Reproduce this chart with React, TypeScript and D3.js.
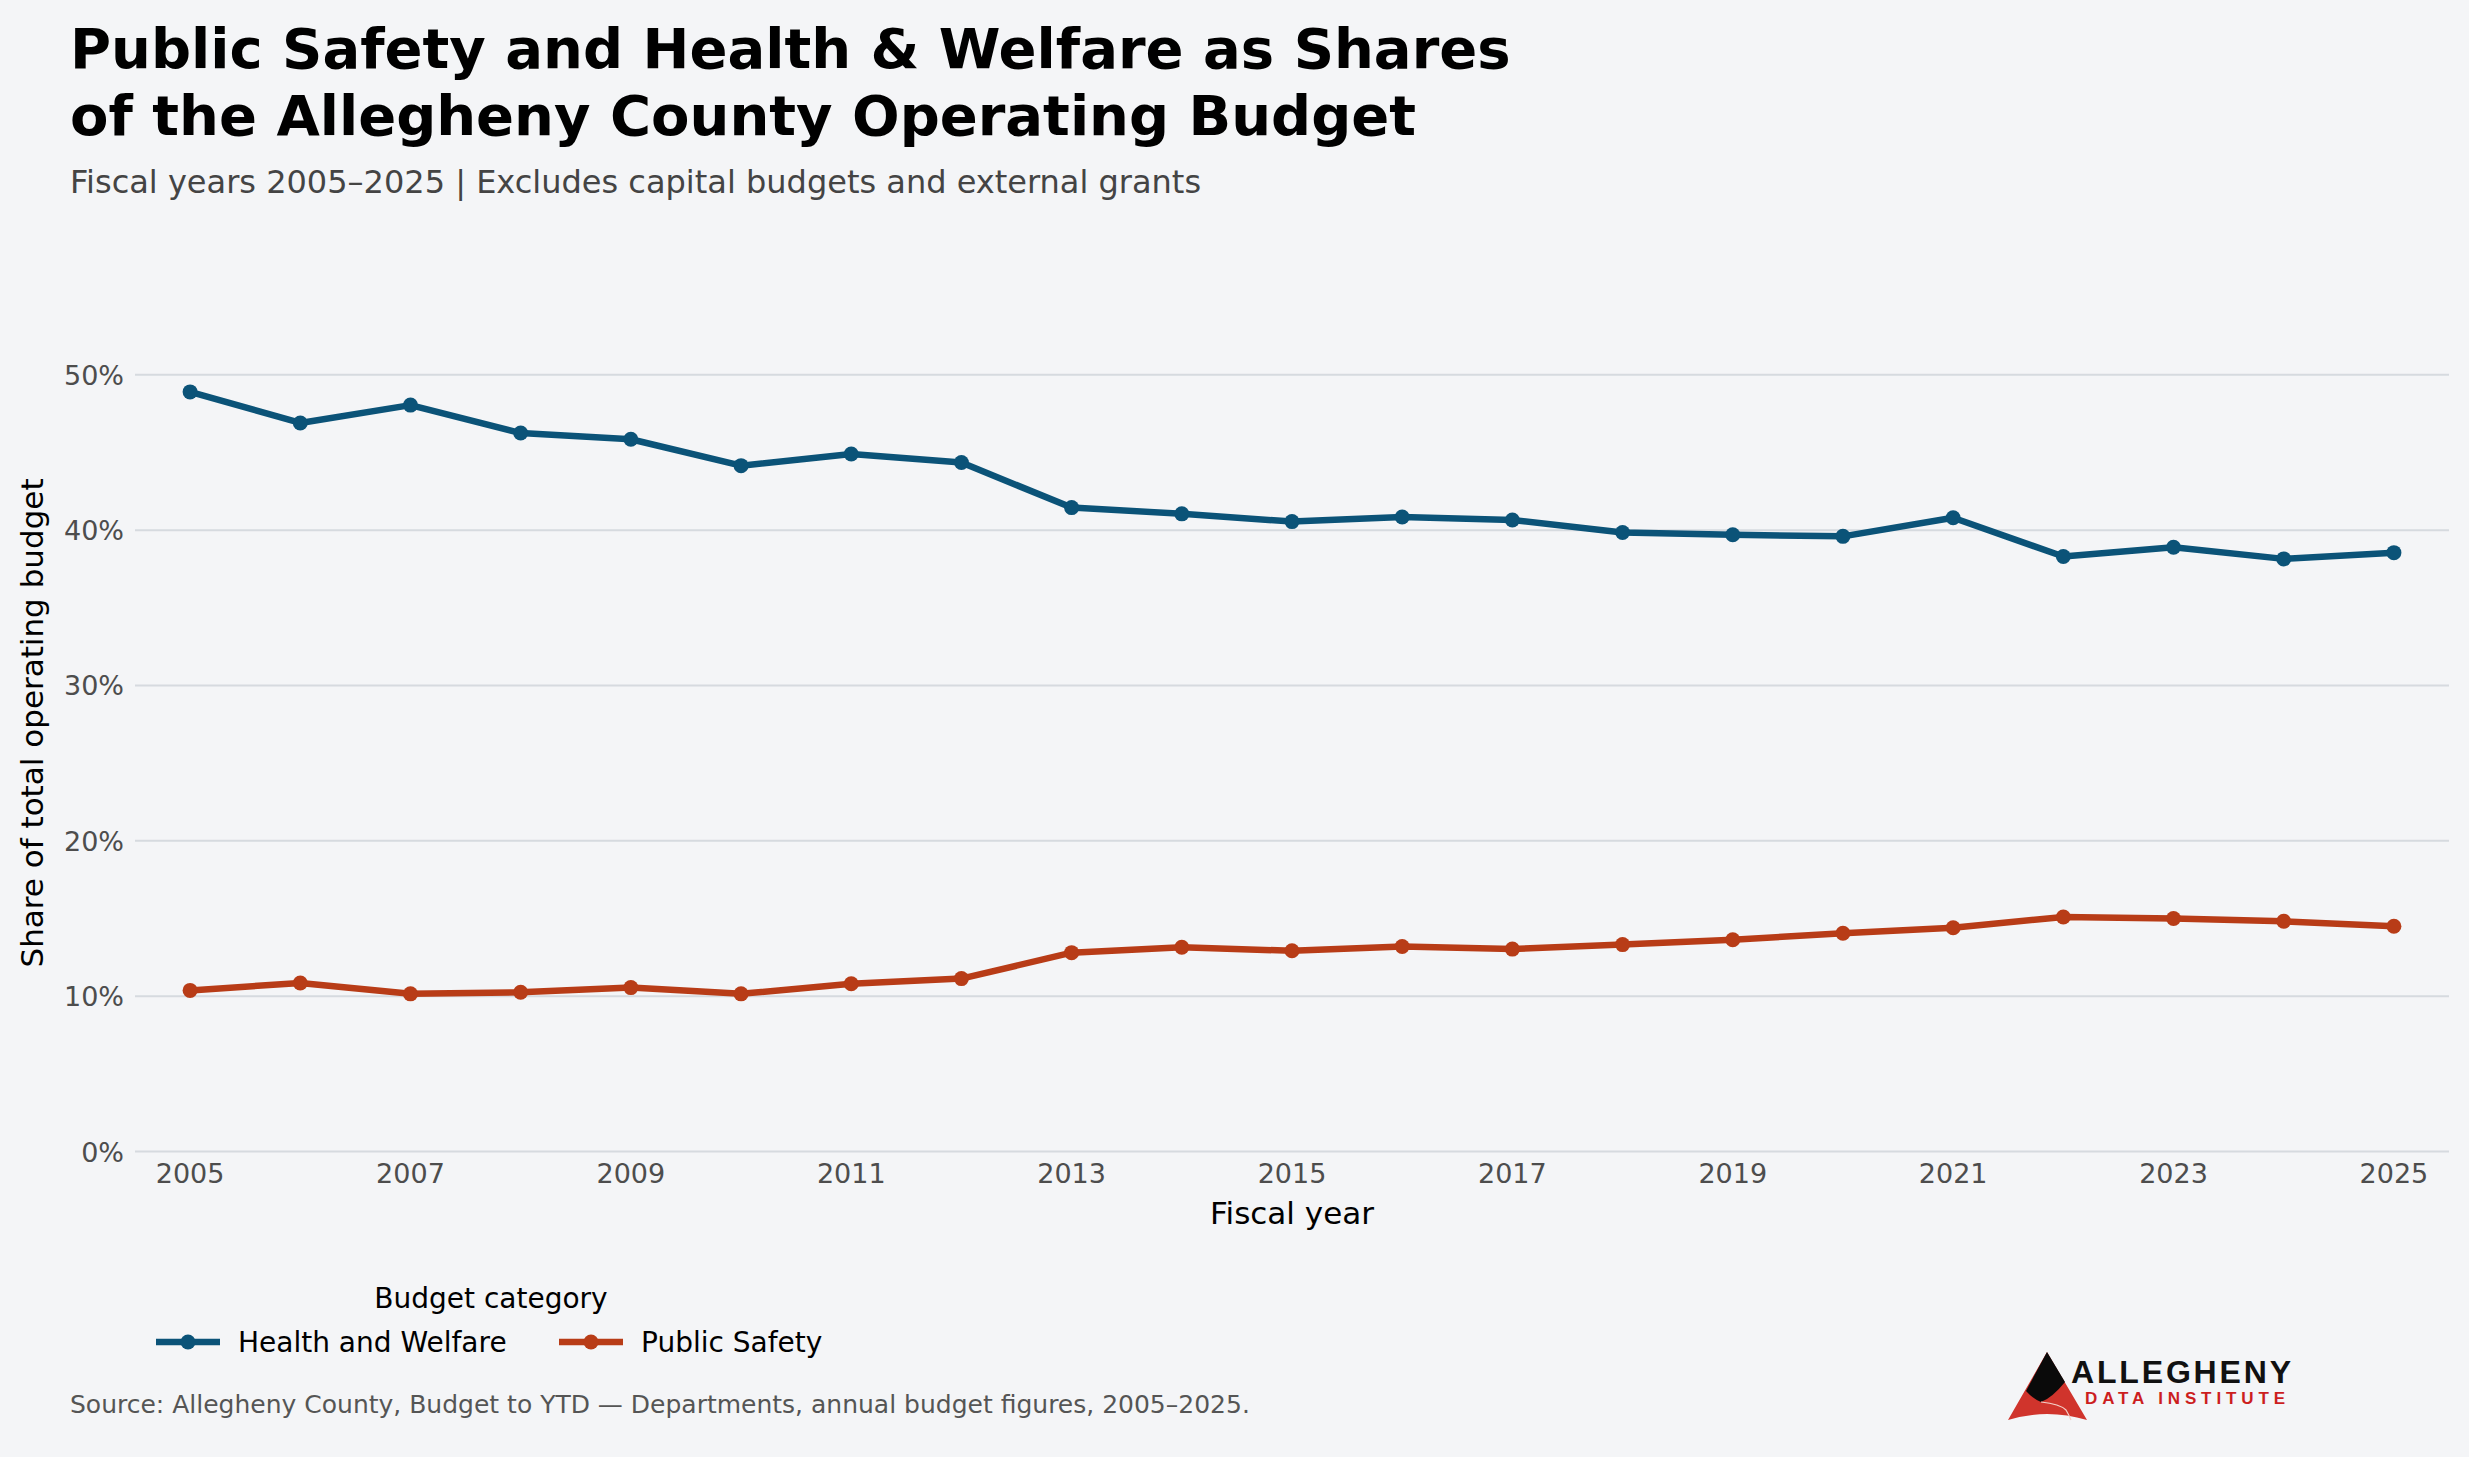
import React, { useRef, useEffect } from 'react';
import * as d3 from 'd3';

const years = [2005, 2006, 2007, 2008, 2009, 2010, 2011, 2012, 2013, 2014, 2015,
  2016, 2017, 2018, 2019, 2020, 2021, 2022, 2023, 2024, 2025];

const healthWelfare = [48.9, 46.9, 48.05, 46.25, 45.85, 44.15, 44.9, 44.35, 41.45, 41.05, 40.55,
  40.85, 40.65, 39.85, 39.7, 39.6, 40.8, 38.3, 38.9, 38.15, 38.55];

const publicSafety = [10.37, 10.85, 10.15, 10.25, 10.55, 10.15, 10.8, 11.13, 12.8, 13.15, 12.92,
  13.2, 13.03, 13.32, 13.63, 14.05, 14.4, 15.1, 15.0, 14.82, 14.5];

const yTicks = [0, 10, 20, 30, 40, 50];
const xTicks = [2005, 2007, 2009, 2011, 2013, 2015, 2017, 2019, 2021, 2023, 2025];

const seriesNames = ['Health and Welfare', 'Public Safety'];
const seriesColors = ['#0b5378', '#b83c17'];

const W = 2469;
const H = 1457;
const FONT = 'DejaVu Sans, sans-serif';

export default function App() {
  const svgRef = useRef<SVGSVGElement>(null);

  useEffect(() => {
    if (!svgRef.current) return;
    const svg = d3.select(svgRef.current);
    svg.selectAll('*').remove();

    svg.append('rect').attr('width', W).attr('height', H).attr('fill', '#f4f5f7');

    const x = d3.scaleLinear().domain([2004.5, 2025.5]).range([135, 2449]);
    const y = d3.scaleLinear().domain([0, 50]).range([1151.5, 374.8]);

    // gridlines
    svg.append('g')
      .selectAll('line')
      .data(yTicks)
      .enter()
      .append('line')
      .attr('x1', x(2004.5))
      .attr('x2', x(2025.5))
      .attr('y1', d => y(d))
      .attr('y2', d => y(d))
      .attr('stroke', '#d6dadf')
      .attr('stroke-width', 2);

    // y tick labels
    svg.append('g')
      .selectAll('text')
      .data(yTicks)
      .enter()
      .append('text')
      .attr('x', 124)
      .attr('y', d => y(d) + 10)
      .attr('text-anchor', 'end')
      .style('font-family', FONT)
      .style('font-size', '27px')
      .style('fill', '#4d4d4d')
      .text(d => `${d}%`);

    // x tick labels
    svg.append('g')
      .selectAll('text')
      .data(xTicks)
      .enter()
      .append('text')
      .attr('x', d => x(d))
      .attr('y', 1183)
      .attr('text-anchor', 'middle')
      .style('font-family', FONT)
      .style('font-size', '27px')
      .style('fill', '#4d4d4d')
      .text(d => String(d));

    // axis titles
    svg.append('text')
      .attr('x', 1292)
      .attr('y', 1224)
      .attr('text-anchor', 'middle')
      .style('font-family', FONT)
      .style('font-size', '31px')
      .style('fill', '#000')
      .text('Fiscal year');

    svg.append('text')
      .attr('transform', 'translate(43,723) rotate(-90)')
      .attr('text-anchor', 'middle')
      .style('font-family', FONT)
      .style('font-size', '31px')
      .style('fill', '#000')
      .text('Share of total operating budget');

    // lines
    const allSeries = [healthWelfare, publicSafety];
    const line = d3.line<number>()
      .x((_, i) => x(years[i]))
      .y(d => y(d));

    allSeries.forEach((vals, si) => {
      svg.append('path')
        .datum(vals)
        .attr('d', line)
        .attr('fill', 'none')
        .attr('stroke', seriesColors[si])
        .attr('stroke-width', 6.5)
        .attr('stroke-linejoin', 'round')
        .attr('stroke-linecap', 'round');

      svg.append('g')
        .selectAll('circle')
        .data(vals)
        .enter()
        .append('circle')
        .attr('cx', (_, i) => x(years[i]))
        .attr('cy', d => y(d))
        .attr('r', 7.5)
        .attr('fill', seriesColors[si]);
    });

    // title and subtitle
    const title = svg.append('text')
      .style('font-family', FONT)
      .style('font-size', '56px')
      .style('font-weight', 'bold')
      .style('fill', '#000');
    title.append('tspan').attr('x', 70).attr('y', 68)
      .text('Public Safety and Health & Welfare as Shares');
    title.append('tspan').attr('x', 70).attr('y', 135)
      .text('of the Allegheny County Operating Budget');

    svg.append('text')
      .attr('x', 70)
      .attr('y', 193)
      .style('font-family', FONT)
      .style('font-size', '32px')
      .style('fill', '#444')
      .text('Fiscal years 2005–2025 | Excludes capital budgets and external grants');

    // legend
    const legend = svg.append('g');
    legend.append('text')
      .attr('x', 491)
      .attr('y', 1308)
      .attr('text-anchor', 'middle')
      .style('font-family', FONT)
      .style('font-size', '28px')
      .style('fill', '#000')
      .text('Budget category');

    const legendX = [156, 559];
    seriesNames.forEach((name, i) => {
      const lx = legendX[i];
      legend.append('line')
        .attr('x1', lx).attr('x2', lx + 64)
        .attr('y1', 1342).attr('y2', 1342)
        .attr('stroke', seriesColors[i])
        .attr('stroke-width', 6.5);
      legend.append('circle')
        .attr('cx', lx + 32).attr('cy', 1342).attr('r', 7.5)
        .attr('fill', seriesColors[i]);
      legend.append('text')
        .attr('x', lx + 82)
        .attr('y', 1352)
        .style('font-family', FONT)
        .style('font-size', '28px')
        .style('fill', '#000')
        .text(name);
    });

    // source
    svg.append('text')
      .attr('x', 70)
      .attr('y', 1413)
      .style('font-family', FONT)
      .style('font-size', '25px')
      .style('fill', '#555')
      .text('Source: Allegheny County, Budget to YTD — Departments, annual budget figures, 2005–2025.');

    // logo
    const logo = svg.append('g');
    logo.append('path')
      .attr('d', 'M2047,1352 L2087,1420 Q2047,1408 2008,1420 Z')
      .attr('fill', '#d0342c');
    logo.append('path')
      .attr('d', 'M2047,1352 L2065,1382 Q2052,1398 2041,1402 Q2032,1398 2026,1391 Z')
      .attr('fill', '#0a0a0a');
    logo.append('path')
      .attr('d', 'M2041,1402 Q2060,1404 2066,1410 Q2069,1415 2071,1420')
      .attr('fill', 'none')
      .attr('stroke', '#f4d0c8')
      .attr('stroke-width', 1.2);
    logo.append('text')
      .attr('x', 2071)
      .attr('y', 1383)
      .attr('textLength', 220)
      .style('font-family', 'Liberation Sans, Arial, sans-serif')
      .style('font-size', '32px')
      .style('font-weight', 'bold')
      .style('fill', '#111')
      .text('ALLEGHENY');
    logo.append('text')
      .attr('x', 2085)
      .attr('y', 1404)
      .attr('textLength', 200)
      .style('font-family', 'Liberation Sans, Arial, sans-serif')
      .style('font-size', '17px')
      .style('font-weight', 'bold')
      .style('fill', '#cc1e1e')
      .text('DATA INSTITUTE');
  }, []);

  return (
    <svg
      ref={svgRef}
      width={W}
      height={H}
      style={{ position: 'absolute', top: 0, left: 0, display: 'block' }}
    />
  );
}
